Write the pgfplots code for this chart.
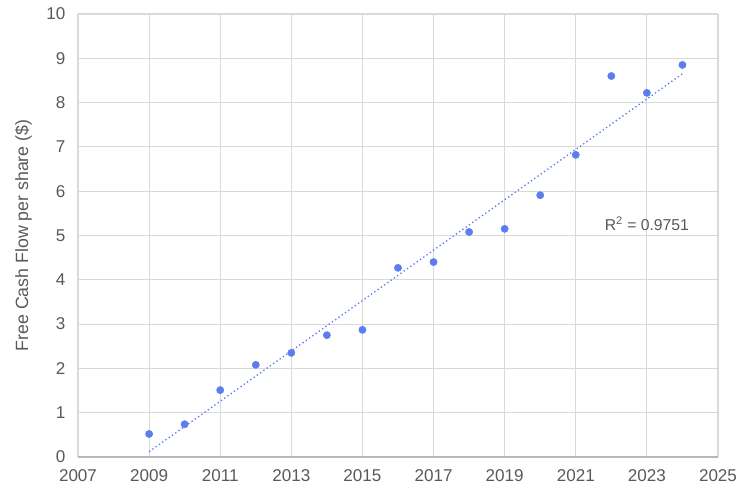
\documentclass[border=0pt]{standalone}
\usepackage{pgfplots}
\pgfplotsset{compat=1.18}
\usepackage{fontspec}
\setmainfont{Liberation Sans}
\definecolor{pt}{HTML}{5B7DED}
\definecolor{gridc}{HTML}{D9D9D9}
\definecolor{txt}{HTML}{595959}
\begin{document}
\begin{tikzpicture}
\begin{axis}[
  name=ax,
  scale only axis,
  width=480pt, height=332.25pt,
  xmin=2007, xmax=2025, ymin=0, ymax=10,
  xtick={2007,2009,...,2025}, ytick={0,1,...,10},
  xticklabel style={/pgf/number format/1000 sep={}},
  /pgf/number format/assume math mode=true,
  grid=major,
  major grid style={gridc, line width=0.8pt},
  axis line style={draw=none},
  axis x line*=bottom, axis y line*=left,
  x axis line style={draw=none},
  tick style={draw=none},
  ticklabel style={font=\fontsize{12.8}{14}\selectfont, text=txt},
  xticklabel style={yshift=-6pt},
  yticklabel style={xshift=-6pt},
  ylabel={Free Cash Flow per share (\$)},
  ylabel style={font=\fontsize{13.3}{15}\selectfont, text=txt, yshift=4pt},
  clip=false,
]
\addplot[only marks, mark=*, mark size=2.7pt, pt, mark options={draw=pt, fill=pt}] coordinates {
 (2009,0.52) (2010,0.74) (2011,1.51) (2012,2.08) (2013,2.35) (2014,2.75)
 (2015,2.87) (2016,4.27) (2017,4.40) (2018,5.08) (2019,5.15) (2020,5.91)
 (2021,6.82) (2022,8.60) (2023,8.22) (2024,8.85)
};
\addplot[pt, dotted, line width=1pt] coordinates {(2009,0.12) (2024,8.65)};
\draw[color=gridc!85!black, line width=0.8pt] (axis cs:2007,0) -- (axis cs:2025,0);
\node[font=\fontsize{11.8}{13}\selectfont, text=txt] at (axis cs:2023.0,5.27) {R\textsuperscript{2} = 0.9751};
\end{axis}
\pgfresetboundingbox
\path (ax.south west) ++(-58.5pt,-29.25pt) coordinate (bl);
\path (ax.north east) ++(21.75pt,10.5pt) coordinate (tr);
\path (bl) rectangle (tr);
\end{tikzpicture}
\end{document}
